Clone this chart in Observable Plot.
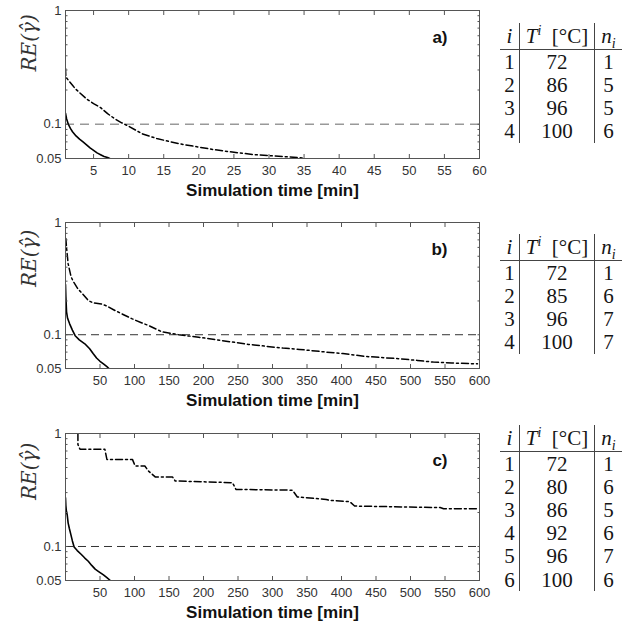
<!DOCTYPE html>
<html><head><meta charset="utf-8">
<script src="https://cdn.jsdelivr.net/npm/d3@7"></script>
<script src="https://cdn.jsdelivr.net/npm/@observablehq/plot@0.6"></script>
<style>
body{margin:0;background:#fff;}
#wrap{position:relative;width:638px;height:622px;overflow:hidden;background:#fff;}
.panel{position:absolute;left:0;}
table.tbl{position:absolute;left:500px;border-collapse:collapse;font-family:"Liberation Serif","DejaVu Serif",serif;font-size:21px;color:#151515;table-layout:fixed;}
table.tbl td,table.tbl th{padding:0;text-align:center;font-weight:normal;line-height:20px;}
table.tbl tr.h th{height:26px;border-bottom:1px solid #444;}
table.tbl tr.r td{height:23.2px;}
table.tbl .c1{width:19px;border-right:1px solid #444;}
table.tbl .c2{width:74px;border-right:1px solid #444;}
table.tbl .c3{width:27px;}
table.tbl sup,table.tbl sub{font-size:14px;line-height:0;}
</style></head><body><div id="wrap"></div>
<script>
// ---- data ----
const timeA_solid = [1, 1.15, 1.4, 1.7, 2.0, 2.5, 3.0, 3.5, 4.0, 4.5, 5.0, 5.5, 6.0, 6.5, 7.0, 7.3];
const reA_solid   = [0.125, 0.112, 0.1, 0.092, 0.086, 0.079, 0.074, 0.07, 0.066, 0.062, 0.059, 0.056, 0.054, 0.052, 0.051, 0.05];
const timeA_dd = [1, 1.05, 1.5, 2, 2.4, 3, 4, 5, 6, 7, 8, 9, 10, 12, 14, 16, 18, 20, 22, 25, 28, 30, 32, 35];
const reA_dd   = [0.31, 0.26, 0.24, 0.22, 0.205, 0.19, 0.167, 0.152, 0.14, 0.124, 0.112, 0.103, 0.096, 0.082, 0.075, 0.07, 0.066, 0.063, 0.06, 0.0567, 0.054, 0.053, 0.052, 0.0505];

const timeB_solid = [0, 0.5, 1.5, 3, 6, 10, 14, 20, 28, 35, 40, 45, 50, 55, 60, 63];
const reB_solid   = [0.28, 0.22, 0.16, 0.14, 0.125, 0.11, 0.098, 0.09, 0.083, 0.075, 0.068, 0.062, 0.058, 0.055, 0.052, 0.05];
const timeB_dd = [0.5, 1.5, 3.8, 8, 11, 18, 25, 33, 40, 52, 60, 72, 85, 96, 110, 120, 140, 164, 193, 220, 242, 265, 290, 315, 339, 378, 402, 436, 485, 510, 533, 560, 597];
const reB_dd   = [0.72, 0.6, 0.43, 0.33, 0.3, 0.256, 0.23, 0.202, 0.192, 0.188, 0.18, 0.164, 0.15, 0.139, 0.128, 0.121, 0.106, 0.1, 0.095, 0.09, 0.086, 0.082, 0.079, 0.076, 0.074, 0.07, 0.068, 0.064, 0.061, 0.059, 0.057, 0.056, 0.055];

const timeC_solid = [0, 0.5, 1.3, 2.5, 3.8, 5.5, 7.7, 10, 12.5, 17, 23, 28, 33, 38, 43, 48, 55, 60, 65];
const reC_solid   = [0.27, 0.23, 0.205, 0.19, 0.162, 0.145, 0.128, 0.112, 0.099, 0.092, 0.085, 0.079, 0.074, 0.068, 0.063, 0.06, 0.056, 0.053, 0.05];
const timeC_dd = [18, 18, 21, 57, 60, 97, 101, 115, 120, 130, 155, 159, 242, 247, 329, 336, 378, 383, 412, 419, 543, 548, 597];
const reC_dd   = [1.0, 0.8, 0.726, 0.726, 0.59, 0.59, 0.515, 0.515, 0.467, 0.413, 0.413, 0.38, 0.367, 0.32, 0.315, 0.274, 0.261, 0.256, 0.249, 0.228, 0.221, 0.216, 0.216];

const ticksA = [5, 10, 15, 20, 25, 30, 35, 40, 45, 50, 55, 60];
const ticksBC = [50, 100, 150, 200, 250, 300, 350, 400, 450, 500, 550, 600];
const yMajor = [0.05, 0.1, 1];
const yMinor = [0.06, 0.07, 0.08, 0.09, 0.1, 0.2, 0.3, 0.4, 0.5, 0.6, 0.7, 0.8, 0.9];
const tags = ["a)", "b)", "c)"];
const xTitle = "Simulation time [min]";
const yTitle = "RE(γ\u0302)";

const tableHeader = ["i", "T^i [°C]", "n_i"];
const tblA_i = [1, 2, 3, 4], tblA_T = [72, 86, 96, 100], tblA_n = [1, 5, 5, 6];
const tblB_i = [1, 2, 3, 4], tblB_T = [72, 85, 96, 100], tblB_n = [1, 6, 7, 7];
const tblC_i = [1, 2, 3, 4, 5, 6], tblC_T = [72, 80, 86, 92, 96, 100], tblC_n = [1, 6, 5, 6, 7, 6];

const zip = (t, r) => t.map((d, i) => ({t: d, re: r[i]}));

function panel(o) {
  const mB = 47, mT = 10;
  return Plot.plot({
    width: 490, height: mT + o.plotH + mB,
    marginLeft: 65, marginRight: 11, marginTop: mT, marginBottom: mB,
    style: {fontFamily: "'Liberation Sans', Arial, sans-serif", fontSize: "13px", color: "#333", background: "#fff", overflow: "visible"},
    x: {domain: o.xDomain},
    y: {type: "log", domain: [0.05, 1]},
    marks: [
      Plot.ruleY([0.1], {stroke: o.refColor, strokeWidth: o.refWidth, strokeDasharray: o.refDash}),
      Plot.line(o.solid, {x: "t", y: "re", stroke: "#000", strokeWidth: 1.6, clip: true}),
      Plot.line(o.dd, {x: "t", y: "re", stroke: "#000", strokeWidth: 1.5, strokeDasharray: "7,3,2,3", clip: true}),
      Plot.frame({stroke: "#555"}),
      Plot.axisX({anchor: "bottom", ticks: o.xTicks, tickSize: 4, dy: -4, tickFormat: () => "", label: null, stroke: "#555"}),
      Plot.axisX({anchor: "top", ticks: o.xTicks, tickSize: 4, dy: 4, tickFormat: () => "", label: null, stroke: "#555"}),
      Plot.axisX({anchor: "bottom", ticks: o.xTicks, tickSize: 0, tickPadding: 7, label: null, fill: "#333"}),
      Plot.axisY({anchor: "left", ticks: yMinor, tickSize: 2.5, dx: 2.5, tickFormat: () => "", label: null, stroke: "#555"}),
      Plot.axisY({anchor: "right", ticks: yMinor, tickSize: 2.5, dx: -2.5, tickFormat: () => "", label: null, stroke: "#555"}),
      Plot.axisY({anchor: "left", ticks: yMajor, tickSize: 0, tickPadding: 4, tickFormat: d => String(d), label: null, fill: "#333"}),
      Plot.text([o.tag], {frameAnchor: "top-right", dx: -32, dy: 20, lineAnchor: "top", textAnchor: "end", fontWeight: "bold", fontSize: 17, fill: "#111"}),
      Plot.text([xTitle], {frameAnchor: "bottom", dy: 25, lineAnchor: "top", fontWeight: "bold", fontSize: 17, fill: "#111"}),
      Plot.text([yTitle], {frameAnchor: "left", dx: -36, dy: o.ylDy, rotate: -90, fontFamily: "'DejaVu Serif', serif", fontStyle: "italic", fontSize: 20, fill: "#333"})
    ]
  });
}

function table(top, I, T, N) {
  const tb = document.createElement("table");
  tb.className = "tbl";
  tb.style.top = top + "px";
  let html = `<tr class="h"><th class="c1"><i>${tableHeader[0]}</i></th><th class="c2"><i>T</i><sup><i>i</i></sup>&nbsp;&nbsp;[°C]</th><th class="c3"><i>n</i><sub><i>i</i></sub></th></tr>`;
  I.forEach((d, k) => {
    html += `<tr class="r"><td class="c1">${d}</td><td class="c2">${T[k]}</td><td class="c3">${N[k]}</td></tr>`;
  });
  tb.innerHTML = html;
  return tb;
}

const wrap = document.getElementById("wrap");
const cfgs = [
  {top: 0, plotH: 148, xDomain: [1, 60], xTicks: ticksA, solid: zip(timeA_solid, reA_solid), dd: zip(timeA_dd, reA_dd), tag: tags[0], refColor: "#999", refWidth: 1.6, refDash: "9,6", ylDy: -13},
  {top: 212, plotH: 146, xDomain: [0, 600], xTicks: ticksBC, solid: zip(timeB_solid, reB_solid), dd: zip(timeB_dd, reB_dd), tag: tags[1], refColor: "#333", refWidth: 1, refDash: "8,5", ylDy: -8.5},
  {top: 423, plotH: 147, xDomain: [0, 600], xTicks: ticksBC, solid: zip(timeC_solid, reC_solid), dd: zip(timeC_dd, reC_dd), tag: tags[2], refColor: "#333", refWidth: 1, refDash: "8,5", ylDy: -7}
];
cfgs.forEach(c => {
  const d = document.createElement("div");
  d.className = "panel";
  d.style.top = c.top + "px";
  d.appendChild(panel(c));
  wrap.appendChild(d);
});
wrap.appendChild(table(23, tblA_i, tblA_T, tblA_n));
wrap.appendChild(table(234, tblB_i, tblB_T, tblB_n));
wrap.appendChild(table(425, tblC_i, tblC_T, tblC_n));
</script></body></html>
